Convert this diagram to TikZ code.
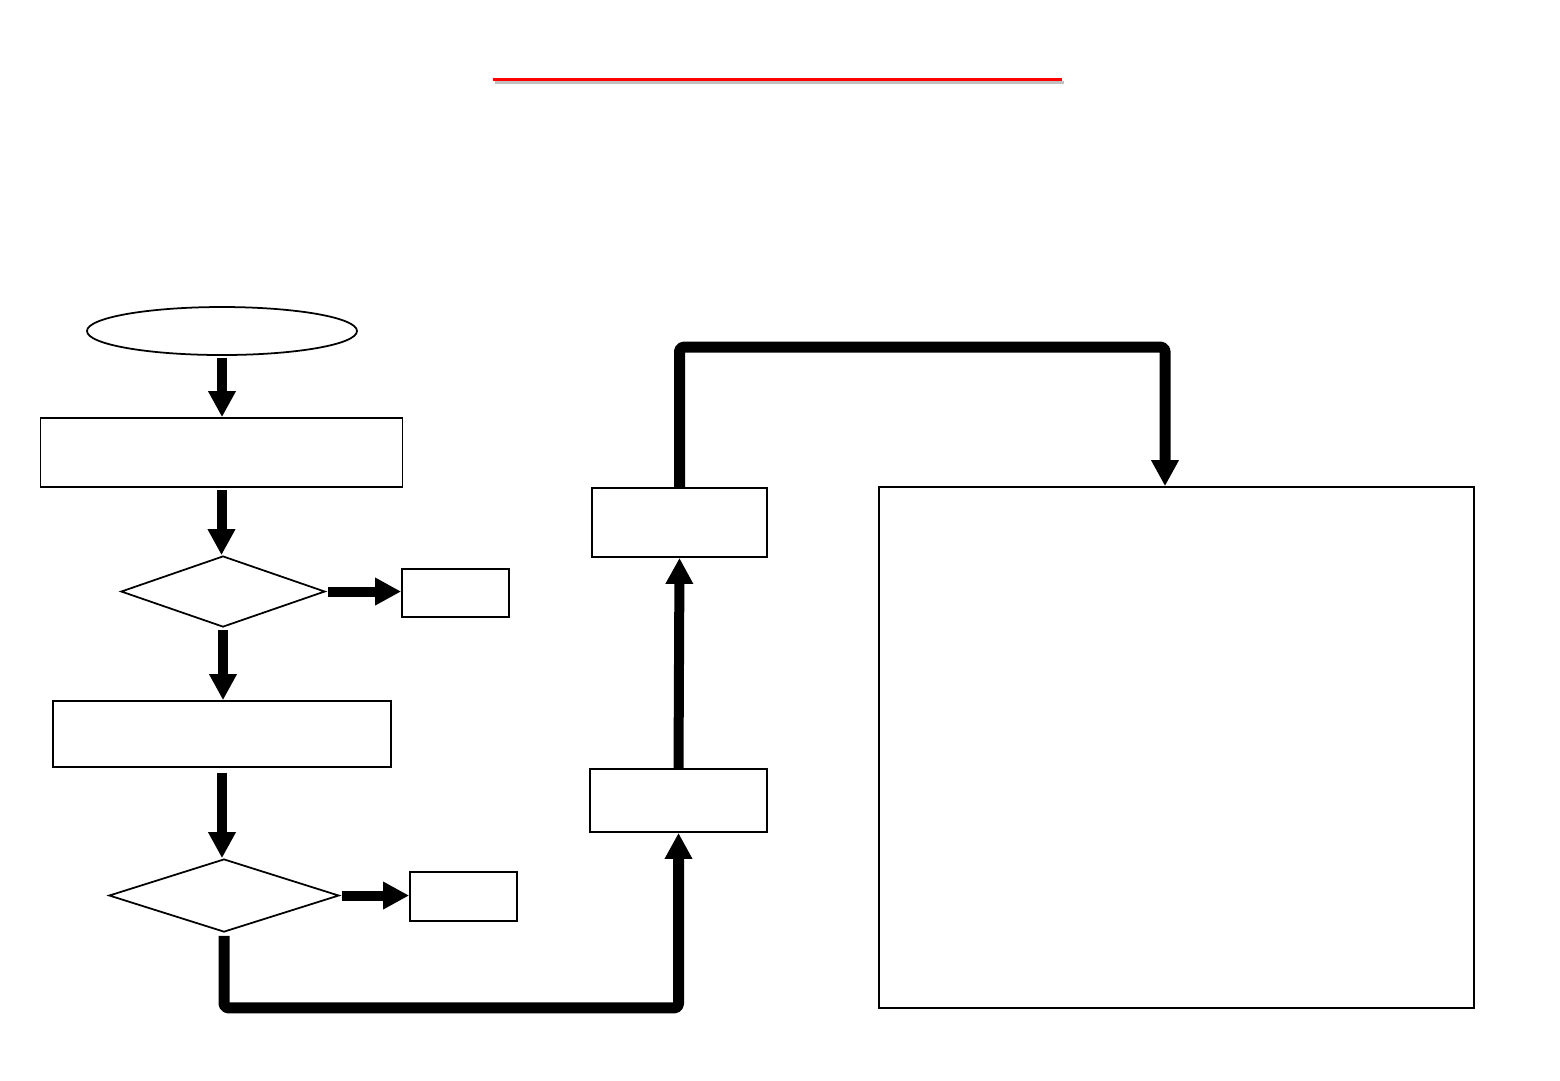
\documentclass[tikz,border=0pt]{standalone}
\usepackage{tikz}
\usetikzlibrary{arrows.meta,positioning,shapes.geometric}
\definecolor{ftred}{HTML}{FF0000}
\definecolor{ftshade}{HTML}{C0C0C0}
\tikzset{
  box/.style={draw=black,fill=white,line width=0.5pt,inner sep=0pt},
  oval/.style={ellipse,draw=black,fill=white,line width=0.5pt,inner sep=0pt},
  ask/.style={diamond,draw=black,fill=white,line width=0.5pt,inner sep=0pt},
  arr/.style={-{Triangle[length=2.6mm,width=2.6mm]},line width=1mm,draw=black},
  loop/.style={-{Triangle[length=2.6mm,width=2.6mm]},line width=1.1mm,draw=black,rounded corners=0.4mm,line join=round},
  rule/.style={line width=0.3mm},
}
\begin{document}
\begin{tikzpicture}[x=0.1mm,y=-0.1mm]
  \useasboundingbox (0,0) rectangle (1560,1080);
  \draw[rule,ftshade] (495,82) -- (1064,82);
  \draw[rule,ftred] (493,79) -- (1062,79);

  \node[oval,minimum width=27mm,minimum height=4.8mm] (start) at (222,331) {};
  \node[box,minimum width=36.2mm,minimum height=6.9mm] (read) at (221.5,452.5) {};
  \node[ask,minimum width=20.4mm,minimum height=7.1mm] (chk1) at (223,591.5) {};
  \node[box,minimum width=10.7mm,minimum height=4.8mm] (out1) at (455.5,593) {};
  \node[box,minimum width=33.8mm,minimum height=6.6mm] (proc) at (222,734) {};
  \node[ask,minimum width=23mm,minimum height=7.3mm] (chk2) at (224,895.5) {};
  \node[box,minimum width=10.7mm,minimum height=4.9mm] (out2) at (463.5,896.5) {};
  \node[box,minimum width=17.7mm,minimum height=6.3mm] (stepa) at (678.5,800.5) {};
  \node[box,minimum width=17.5mm,minimum height=6.9mm] (stepb) at (679.5,522.5) {};
  \node[box,minimum width=59.5mm,minimum height=52.1mm] (result) at (1176.5,747.5) {};

  \draw[arr] ([yshift=-0.2mm]start.south) -- (start.south |- read.north);
  \draw[arr] ([yshift=-0.2mm]read.south) -- (read.south |- chk1.north);
  \draw[arr] ([xshift=0.2mm]chk1.east) -- (chk1.east -| out1.west);
  \draw[arr] ([yshift=-0.2mm]chk1.south) -- (chk1.south |- proc.north);
  \draw[arr] ([yshift=-0.5mm]proc.south) -- (proc.south |- chk2.north);
  \draw[arr] ([xshift=0.2mm]chk2.east) -- (chk2.east -| out2.west);
  \draw[loop] ([yshift=-0.3mm]chk2.south) -- ++(0,72) -| (stepa.south);
  \draw[arr] (stepa.north) -- (stepb.south);
  \draw[loop] (stepb.north) -- ++(0,-140) -| ([xshift=-1.15mm]result.north);
\end{tikzpicture}
\end{document}
